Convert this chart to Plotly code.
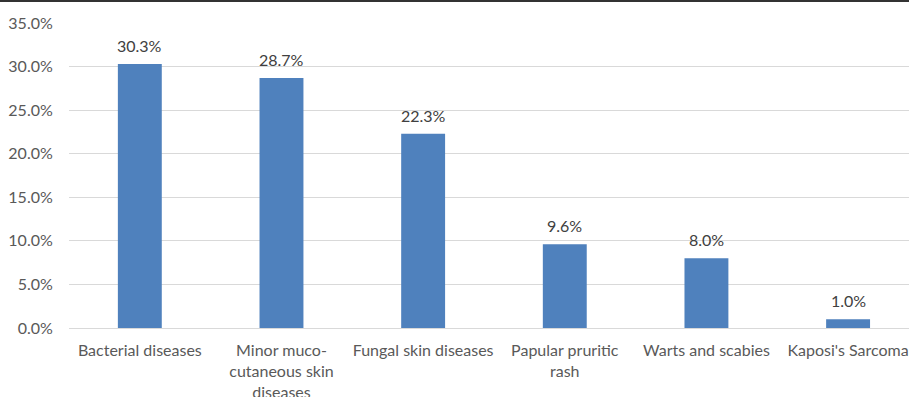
import plotly.graph_objects as go

categories = [
    "Bacterial diseases",
    "Minor muco-<br>cutaneous skin<br>diseases",
    "Fungal skin diseases",
    "Papular pruritic<br>rash",
    "Warts and scabies",
    "Kaposi's Sarcoma",
]
percent = [30.3, 28.7, 22.3, 9.6, 8.0, 1.0]
y_ticks = [0, 5, 10, 15, 20, 25, 30, 35]
y_tick_labels = [f"{v:.1f}%" for v in y_ticks]

font_family = "Lato, 'Open Sans', sans-serif"

fig = go.Figure(
    go.Bar(
        x=categories,
        y=percent,
        width=0.31,
        marker=dict(color="#4F81BD", line=dict(width=0)),
        hoverinfo="x+y",
    )
)

# value labels sit a little above each bar
for cat, val in zip(categories, percent):
    fig.add_annotation(
        x=cat, y=val, text=f"{val:.1f}%", showarrow=False,
        yanchor="bottom", yshift=7,
        font=dict(family=font_family, size=16, color="#404040"),
    )

fig.update_layout(
    width=909,
    height=397,
    margin=dict(l=69, r=0, t=23, b=69),
    paper_bgcolor="white",
    plot_bgcolor="white",
    showlegend=False,
    font=dict(family=font_family, size=16, color="#595959"),
    xaxis=dict(
        range=[-0.5, 5.43],
        automargin=False,
        showgrid=False,
        showline=False,
        ticks="outside",
        ticklen=8,
        tickcolor="white",
        tickfont=dict(size=16, color="#595959"),
    ),
    yaxis=dict(
        range=[0, 35],
        automargin=False,
        tickvals=y_ticks,
        ticktext=y_tick_labels,
        showgrid=True,
        gridcolor="#D9D9D9",
        gridwidth=1,
        zeroline=True,
        zerolinecolor="#D9D9D9",
        zerolinewidth=1,
        showline=False,
        ticks="outside",
        ticklen=12,
        tickcolor="white",
        tickfont=dict(size=16, color="#595959"),
    ),
)
# thin dark rule across the very top of the page
fig.add_shape(type="line", xref="paper", yref="paper", x0=-69 / 840, x1=1.0,
              y0=1 + 22 / 305, y1=1 + 22 / 305,
              line=dict(color="#333333", width=2))

fig.write_html("out.html")
